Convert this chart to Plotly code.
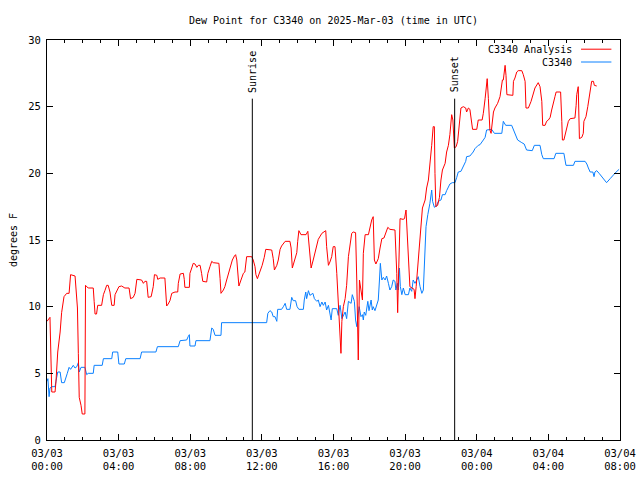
import plotly.graph_objects as go
import pandas as pd

START = pd.Timestamp("2025-03-03 00:00")

# C3340 Analysis (red): minutes after 03/03 00:00 UTC, dew point degF
analysis_min = [0, 10, 16, 27, 30, 36, 44, 49, 57, 66, 74, 79, 94, 102, 105, 108, 114, 118, 127, 129,
                138, 155, 158, 161, 166, 170, 183, 189, 194, 200, 205, 211, 217, 225, 228, 237, 241, 250, 261, 275,
                280, 289, 295, 301, 317, 323, 328, 334, 339, 349, 356, 360, 368, 371, 379, 395, 399, 401, 406, 412,
                418, 429, 438, 440, 446, 457, 460, 462, 477, 479, 485, 490, 496, 502, 507, 513, 518, 522, 535, 539,
                546, 552, 557, 576, 580, 583, 591, 596, 602, 608, 617, 621, 628, 632, 636, 639, 643, 650, 658, 663,
                669, 686, 691, 697, 700, 705, 714, 721, 728, 733, 753, 758, 762, 770, 775, 781, 786, 792, 798, 814,
                818, 822, 825, 831, 837, 840, 844, 851, 868, 874, 878, 881, 885, 892, 898, 904, 909, 921, 928, 934,
                937, 943, 948, 954, 959, 965, 971, 976, 979, 982, 985, 988, 993, 999, 1004, 1010, 1015, 1021, 1026, 1034,
                1038, 1041, 1043, 1047, 1052, 1057, 1060, 1066, 1077, 1082, 1088, 1093, 1097, 1102, 1110, 1116, 1122, 1129, 1135, 1142,
                1149, 1166, 1172, 1175, 1177, 1181, 1183, 1193, 1198, 1203, 1207, 1211, 1216, 1230, 1233, 1237, 1242, 1247, 1253, 1258,
                1267, 1272, 1278, 1283, 1289, 1294, 1298, 1300, 1303, 1309, 1315, 1320, 1325, 1334, 1339, 1345, 1350, 1356, 1360, 1365,
                1371, 1376, 1381, 1387, 1395, 1403, 1406, 1412, 1417, 1423, 1426, 1440, 1445, 1458, 1462, 1468, 1475, 1479, 1482, 1484,
                1488, 1492, 1496, 1501, 1510, 1518, 1526, 1529, 1535, 1538, 1541, 1561, 1563, 1568, 1574, 1579, 1591, 1596, 1602, 1605,
                1613, 1622, 1630, 1635, 1646, 1652, 1658, 1661, 1669, 1674, 1680, 1686, 1691, 1697, 1702, 1706, 1721, 1725, 1727, 1732,
                1736, 1742, 1747, 1753, 1769, 1773, 1775, 1780, 1784, 1792, 1797, 1799, 1806, 1812, 1817, 1823, 1825, 1831, 1834, 1842]
analysis_val = [8.9, 9.2, 3.6, 3.6, 4.35, 6.6, 8.1, 9.55, 10.75, 11.0, 11.0, 12.4, 12.3, 9.9, 6.5, 3.2, 2.6, 1.95, 1.95, 11.6,
                11.4, 11.4, 10.4, 9.45, 9.45, 10.1, 10.1, 10.9, 11.2, 11.6, 11.6, 11.1, 10.1, 10.1, 10.9, 11.25, 11.5, 11.55, 11.4, 11.4,
                10.6, 10.7, 11.0, 12.05, 12.0, 11.75, 11.9, 11.9, 10.7, 10.75, 11.5, 12.4, 12.35, 12.05, 12.15, 12.15, 11.1, 10.05, 10.2, 10.45,
                11.0, 11.1, 11.1, 11.75, 12.45, 12.5, 12.05, 11.45, 11.45, 12.5, 12.9, 13.25, 13.2, 12.95, 13.1, 13.1, 12.5, 11.9, 11.85, 12.5,
                13.0, 13.4, 13.3, 13.25, 12.1, 11.0, 11.25, 11.5, 12.0, 12.5, 13.05, 13.5, 13.8, 13.9, 13.5, 12.4, 11.55, 12.0, 12.5, 12.6,
                13.75, 13.75, 13.5, 13.0, 12.4, 12.1, 12.6, 13.1, 13.7, 14.3, 14.25, 13.6, 12.75, 13.1, 13.5, 14.3, 14.55, 14.75, 14.9, 14.9,
                14.4, 12.9, 13.1, 13.6, 14.05, 14.9, 15.7, 15.4, 15.4, 15.65, 14.8, 13.9, 12.9, 13.5, 14.1, 14.8, 15.05, 15.5, 15.6, 15.7,
                14.5, 13.1, 13.35, 13.75, 14.5, 14.5, 12.5, 10.5, 9.1, 7.5, 6.5, 8.9, 10.0, 10.6, 11.6, 13.75, 14.6, 15.5, 15.6, 15.55,
                12.0, 7.5, 6.0, 12.0, 11.25, 10.5, 14.0, 15.4, 15.4, 16.0, 16.5, 16.75, 13.5, 13.2, 13.6, 14.4, 15.1, 15.15, 15.6, 15.95,
                15.8, 15.75, 12.5, 9.55, 11.5, 15.75, 16.6, 16.55, 16.6, 17.25, 15.75, 13.5, 11.5, 11.3, 10.6, 11.5, 13.0, 14.5, 16.5, 17.4,
                18.0, 18.9, 19.5, 21.0, 22.1, 23.5, 23.5, 20.0, 17.5, 17.6, 18.2, 19.5, 20.25, 20.75, 21.6, 22.1, 22.9, 24.4, 24.0, 21.9,
                22.0, 22.4, 23.75, 24.9, 25.0, 24.9, 24.6, 24.9, 24.8, 23.9, 23.3, 23.3, 24.0, 24.0, 24.5, 25.6, 27.1, 25.6, 23.9, 23.25,
                23.0, 24.0, 24.6, 24.9, 25.25, 25.75, 27.0, 27.0, 28.1, 27.35, 25.9, 25.85, 26.9, 27.15, 27.6, 27.7, 27.7, 27.4, 26.9, 24.9,
                24.9, 25.4, 26.0, 26.4, 26.8, 26.5, 25.4, 23.6, 23.6, 23.9, 24.0, 24.2, 24.75, 25.2, 25.75, 26.1, 26.1, 23.9, 22.5, 22.5,
                22.9, 23.4, 23.9, 24.1, 24.15, 25.1, 25.9, 26.5, 22.6, 22.7, 23.0, 23.9, 24.25, 25.0, 25.9, 26.6, 26.9, 26.9, 26.6, 26.55]

# C3340 observations (blue)
obs_min = [0, 3, 7, 10, 16, 27, 30, 36, 44, 47, 49, 58, 63, 68, 74, 79, 88, 94, 100, 105,
           108, 114, 127, 133, 138, 155, 158, 185, 189, 217, 220, 237, 241, 259, 264, 312, 317, 365, 370, 440,
           446, 468, 473, 477, 479, 496, 499, 546, 552, 557, 563, 583, 585, 736, 740, 747, 753, 758, 764, 770,
           773, 786, 792, 798, 803, 814, 820, 825, 833, 838, 844, 859, 862, 867, 870, 876, 881, 891, 896, 904,
           909, 915, 921, 926, 932, 937, 943, 948, 952, 956, 971, 976, 982, 988, 993, 999, 1004, 1010, 1019, 1023,
           1030, 1034, 1038, 1041, 1046, 1052, 1057, 1060, 1063, 1068, 1075, 1079, 1086, 1090, 1093, 1099, 1105, 1110, 1114, 1117,
           1122, 1127, 1133, 1138, 1144, 1149, 1155, 1160, 1166, 1169, 1174, 1177, 1181, 1184, 1189, 1194, 1200, 1211, 1216, 1222,
           1227, 1233, 1239, 1244, 1250, 1256, 1261, 1264, 1267, 1270, 1276, 1280, 1283, 1289, 1292, 1298, 1306, 1311, 1320, 1325,
           1334, 1339, 1345, 1350, 1358, 1367, 1373, 1378, 1387, 1395, 1403, 1406, 1417, 1428, 1434, 1445, 1451, 1462, 1468, 1473,
           1490, 1499, 1524, 1529, 1537, 1557, 1563, 1568, 1577, 1591, 1599, 1607, 1626, 1633, 1652, 1658, 1663, 1699, 1705, 1732,
           1739, 1764, 1769, 1803, 1809, 1814, 1820, 1829, 1833, 1836, 1842, 1850, 1859, 1870, 1875, 1887, 1898, 1907, 1917]
obs_val = [4.4, 4.6, 3.25, 3.9, 4.0, 4.0, 4.4, 5.1, 5.1, 4.75, 4.3, 4.3, 4.75, 5.0, 5.45, 5.3, 5.6, 5.4, 5.5, 5.8,
           5.1, 5.45, 5.45, 4.9, 5.0, 5.0, 5.6, 5.6, 6.1, 6.1, 6.6, 6.6, 5.7, 5.7, 6.1, 6.1, 6.6, 6.6, 7.0, 7.0,
           7.45, 7.5, 7.75, 7.9, 7.05, 7.05, 7.45, 7.45, 8.4, 8.3, 7.85, 7.85, 8.8, 8.8, 9.5, 9.7, 9.6, 9.25, 9.25, 8.9,
           9.8, 9.8, 10.0, 10.25, 9.8, 9.8, 10.7, 10.45, 10.45, 10.0, 9.8, 9.8, 10.5, 11.1, 10.6, 11.2, 10.85, 11.0, 10.6, 10.4,
           10.5, 10.0, 10.35, 10.1, 10.35, 9.75, 10.1, 9.5, 9.0, 9.85, 9.85, 9.35, 10.1, 9.1, 9.4, 9.6, 9.1, 10.4, 10.25, 10.9,
           10.4, 9.0, 8.5, 9.25, 10.0, 9.25, 9.4, 9.0, 9.6, 9.35, 10.4, 9.7, 10.5, 9.75, 10.0, 9.7, 10.2, 10.5, 12.0, 13.25,
           12.0, 12.2, 12.0, 12.3, 11.75, 11.25, 11.5, 12.0, 11.9, 11.25, 11.75, 11.25, 12.9, 11.5, 10.9, 11.4, 10.9, 10.9, 11.4, 11.15,
           12.0, 11.75, 12.0, 12.25, 11.5, 11.0, 11.25, 12.5, 14.0, 16.0, 16.9, 17.3, 17.75, 18.75, 17.9, 17.45, 17.6, 17.9, 18.0, 18.4,
           18.4, 18.7, 19.0, 19.2, 19.3, 19.3, 19.7, 20.1, 20.15, 20.5, 20.9, 21.25, 21.3, 21.6, 21.85, 22.1, 22.15, 22.5, 22.7, 23.25,
           23.3, 23.0, 23.0, 23.9, 23.6, 23.6, 23.25, 22.9, 22.5, 22.3, 22.2, 21.75, 21.7, 22.1, 22.1, 21.4, 21.1, 21.1, 21.5, 21.5,
           20.6, 20.6, 20.9, 20.9, 20.7, 20.4, 20.1, 20.1, 19.75, 20.1, 20.2, 20.0, 19.75, 19.5, 19.3, 19.6, 19.9, 20.1, 20.3]

sunrise_min = 688
sunset_min = 1366
sun_line_top = 25.6

tick_hours = [0, 4, 8, 12, 16, 20, 24, 28, 32]
tick_labels = ["03/03<br>00:00", "03/03<br>04:00", "03/03<br>08:00", "03/03<br>12:00", "03/03<br>16:00",
               "03/03<br>20:00", "03/04<br>00:00", "03/04<br>04:00", "03/04<br>08:00"]

series_names = ["C3340 Analysis", "C3340"]
series_colors = ["#ff0000", "#0a80ff"]

FONT = "DejaVu Sans Mono"


def to_time(mins):
    return [START + pd.Timedelta(minutes=m) for m in mins]


fig = go.Figure()
fig.add_trace(go.Scatter(x=to_time(obs_min), y=obs_val, mode="lines", name=series_names[1],
                         line=dict(color=series_colors[1], width=1), showlegend=False))
fig.add_trace(go.Scatter(x=to_time(analysis_min), y=analysis_val, mode="lines", name=series_names[0],
                         line=dict(color=series_colors[0], width=1), showlegend=False))

# sunrise / sunset markers
for m, label in [(sunrise_min, "Sunrise"), (sunset_min, "Sunset")]:
    t = START + pd.Timedelta(minutes=m)
    fig.add_shape(type="line", xref="x", yref="y", x0=t, x1=t, y0=0, y1=sun_line_top,
                  line=dict(color="black", width=1))
    fig.add_annotation(x=t, y=sun_line_top, xref="x", yref="y", text=label, textangle=-90,
                       showarrow=False, xanchor="center", yanchor="bottom", yshift=4,
                       font=dict(family=FONT, size=10, color="black"))

# manual legend (text left of sample line, gnuplot style)
legend_rows = [0.977, 0.945]
for name, color, yy in zip(series_names, series_colors, legend_rows):
    fig.add_annotation(x=0.92, y=yy, xref="paper", yref="paper", text=name, showarrow=False,
                       xanchor="right", yanchor="middle", font=dict(family=FONT, size=10, color="black"))
    fig.add_shape(type="line", xref="paper", yref="paper", x0=0.932, x1=0.985, y0=yy, y1=yy,
                  line=dict(color=color, width=1))

tick_vals = [START + pd.Timedelta(hours=h) for h in tick_hours]

fig.update_layout(
    width=640, height=480,
    margin=dict(l=47, r=20, t=40, b=40, autoexpand=False),
    paper_bgcolor="white", plot_bgcolor="white",
    font=dict(family=FONT, size=10, color="black"),
    title=dict(text="Dew Point for C3340 on 2025-Mar-03 (time in UTC)", x=0.521, xanchor="center",
               y=0.958, yanchor="middle", font=dict(family=FONT, size=10, color="black")),
    showlegend=False,
)
fig.update_xaxes(
    range=[tick_vals[0], tick_vals[-1]], tickmode="array", tickvals=tick_vals, ticktext=tick_labels,
    ticks="inside", ticklen=6, tickcolor="black", showgrid=False, zeroline=False,
    showline=True, linecolor="black", linewidth=1, mirror="allticks", automargin=False,
    ticklabelstandoff=3,
    minor=dict(tickmode="linear", tick0=tick_vals[0], dtick=3600000, ticks="inside", ticklen=3,
               tickcolor="black", showgrid=False),
    tickfont=dict(family=FONT, size=10.5, color="black"),
)
fig.update_yaxes(
    range=[0, 30], tickmode="linear", tick0=0, dtick=5,
    ticks="inside", ticklen=6, tickcolor="black", showgrid=False, zeroline=False,
    showline=True, linecolor="black", linewidth=1, mirror="allticks", automargin=False,
    ticklabelstandoff=3,
    title=dict(text="degrees F", standoff=8, font=dict(family=FONT, size=10, color="black")),
    tickfont=dict(family=FONT, size=10.5, color="black"),
)

fig.write_html("out.html", config={"displayModeBar": False},
               post_script="document.body.style.margin='0';document.body.style.padding='0';")
